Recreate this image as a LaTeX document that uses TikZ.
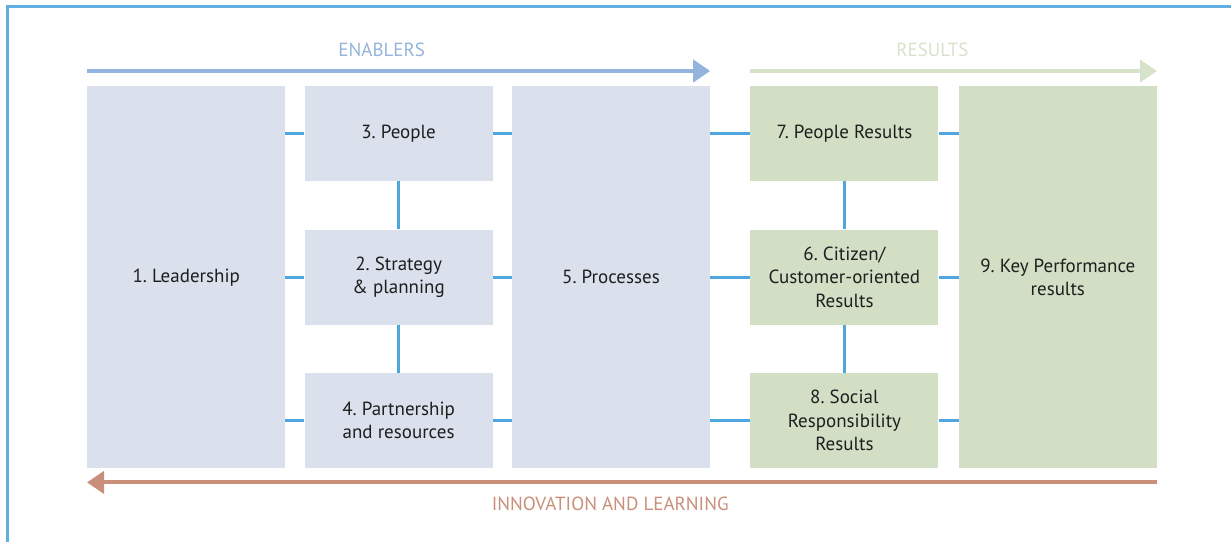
\documentclass[tikz,border=0pt]{standalone}
\usepackage{fontspec}
\setmainfont{PT Sans}
\usetikzlibrary{positioning,arrows.meta}
\definecolor{enfill}{HTML}{DAE0EC}
\definecolor{resfill}{HTML}{D3DFC5}
\definecolor{enline}{HTML}{94B4DD}
\definecolor{resline}{HTML}{D6E2CA}
\definecolor{innline}{HTML}{C98F7A}
\definecolor{link}{HTML}{4FA6DE}
\definecolor{boxtext}{HTML}{1E1E1E}

\begin{document}
\begin{tikzpicture}[x=1pt, y=-1pt,
		box/.style={inner sep=0pt, align=center, text=boxtext,
			font=\fontsize{19}{23.5}\selectfont},
		ebox/.style={box, fill=enfill, minimum width=188pt, minimum height=95pt},
		tall/.style={box, fill=enfill, minimum width=198pt, minimum height=382pt},
		rbox/.style={ebox, fill=resfill},
		rtall/.style={tall, fill=resfill},
		wire/.style={draw=link, line width=3pt},
		head/.style={font=\fontsize{19}{21}\selectfont},
	]
	\useasboundingbox (0,0) rectangle (1231,542);
	\draw[link!90, line width=3pt] (1231,6) -- (7,6) -- (7,542);

	\node[tall, anchor=north west] (lead) at (87,86) {1.~Leadership};
	\node[ebox, below right=0pt and 19pt of lead.north east] (people) {3.~People};
	\node[ebox, below=48pt of people] (strat) {2.~Strategy\\\& planning};
	\node[ebox, below=48pt of strat] (partner) {4.~Partnership\\and resources};
	\node[tall, below right=0pt and 19pt of people.north east] (proc) {5.~Processes};

	\node[rbox, below right=0pt and 40pt of proc.north east] (peopleres) {7.~People Results};
	\node[rbox, below=48pt of peopleres] (citizen) {6.~Citizen/\\Customer-oriented\\Results};
	\node[rbox, below=48pt of citizen] (social) {8.~Social\\Responsibility\\Results};
	\node[rtall, below right=0pt and 20pt of peopleres.north east] (kpr) {9.~Key Performance\\results};

	\coordinate[above=15pt of lead.north west] (en1);
	\coordinate[above=15pt of proc.north east] (en2);
	\coordinate[above=15pt of peopleres.north west] (res1);
	\coordinate[above=15pt of kpr.north east] (res2);
	\coordinate[below=14pt of kpr.south east] (inn1);
	\coordinate[below=14pt of lead.south west] (inn2);

	\draw[enline, line width=4pt, -{Triangle[length=17pt, width=22pt]}] (en1) -- (en2)
		node[head, pos=0.473, above=9pt] {ENABLERS};
	\draw[resline, line width=4pt, -{Triangle[length=17pt, width=22pt]}] (res1) -- (res2)
		node[head, pos=0.448, above=9pt] {RESULTS};
	\draw[innline, line width=4pt, -{Triangle[length=17pt, width=22pt]}] (inn1) -- (inn2)
		node[head, pos=0.511, below=9pt] {INNOVATION AND LEARNING};

	\draw[wire] (people.west) -- (people.west -| lead.east);
	\draw[wire] (strat.west) -- (strat.west -| lead.east);
	\draw[wire] (partner.west) -- (partner.west -| lead.east);
	\draw[wire] (people.east) -- (people.east -| proc.west);
	\draw[wire] (strat.east) -- (strat.east -| proc.west);
	\draw[wire] (partner.east) -- (partner.east -| proc.west);
	\draw[wire] (peopleres.west) -- (peopleres.west -| proc.east);
	\draw[wire] (citizen.west) -- (citizen.west -| proc.east);
	\draw[wire] (social.west) -- (social.west -| proc.east);
	\draw[wire] (peopleres.east) -- (peopleres.east -| kpr.west);
	\draw[wire] (citizen.east) -- (citizen.east -| kpr.west);
	\draw[wire] (social.east) -- (social.east -| kpr.west);
	\draw[wire] (people) -- (strat) -- (partner);
	\draw[wire] (peopleres) -- (citizen) -- (social);
\end{tikzpicture}
\end{document}
